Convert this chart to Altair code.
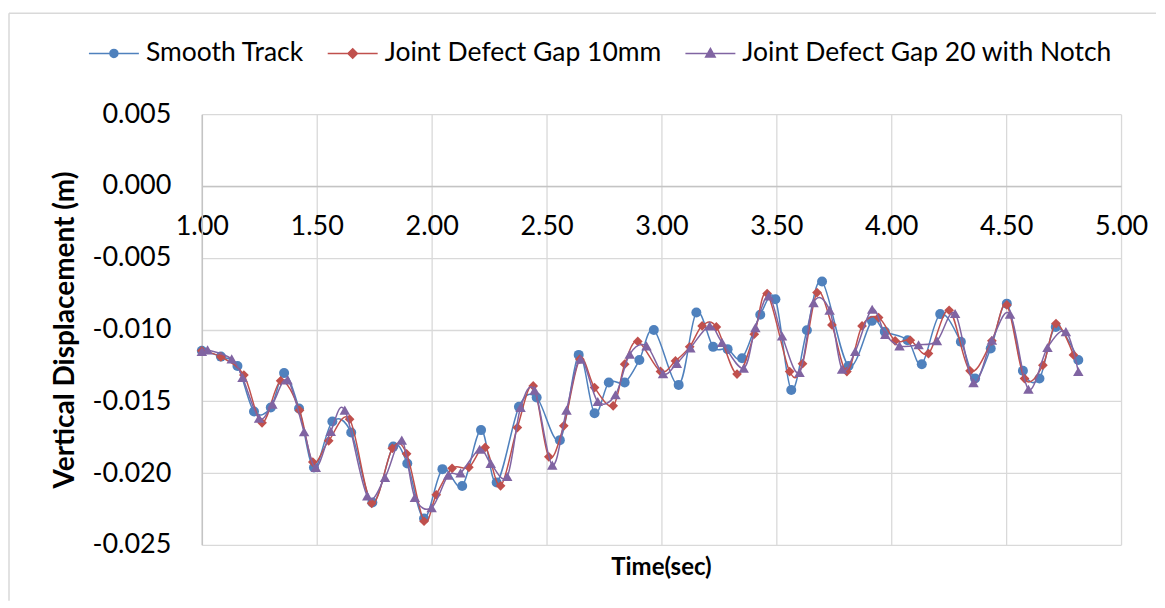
import altair as alt
import pandas as pd

# ---------------- data ----------------
series_names = ["Smooth Track", "Joint Defect Gap 10mm", "Joint Defect Gap 20 with Notch"]
series_colors = ["#4F81BD", "#C0504D", "#8064A2"]
series_shapes = ["circle", "diamond", "triangle-up"]
marker_sizes = [100, 95, 110]

smooth_time = [1.000, 1.083, 1.155, 1.227, 1.300, 1.358, 1.423, 1.488, 1.568, 1.650,
               1.742, 1.833, 1.894, 1.967, 2.047, 2.133, 2.215, 2.283, 2.380, 2.457,
               2.558, 2.640, 2.709, 2.771, 2.840, 2.904, 2.967, 3.075, 3.152, 3.225,
               3.288, 3.351, 3.430, 3.496, 3.565, 3.633, 3.699, 3.814, 3.916, 3.972,
               4.071, 4.133, 4.213, 4.303, 4.365, 4.433, 4.503, 4.573, 4.645, 4.716,
               4.814]
smooth_disp = [-0.01149, -0.01189, -0.01254, -0.01572, -0.01544, -0.01304, -0.01551, -0.01962, -0.01641, -0.01718,
               -0.02205, -0.01816, -0.01934, -0.02317, -0.01973, -0.02091, -0.01701, -0.02066, -0.01539, -0.01474,
               -0.01771, -0.01177, -0.01583, -0.01370, -0.01370, -0.01212, -0.01003, -0.01386, -0.00882, -0.01121,
               -0.01137, -0.01200, -0.00898, -0.00789, -0.01421, -0.01005, -0.00666, -0.01254, -0.00940, -0.01015,
               -0.01075, -0.01242, -0.00893, -0.01086, -0.01342, -0.01133, -0.00820, -0.01288, -0.01342, -0.00982,
               -0.01212]

gap10_time = [1.000, 1.083, 1.183, 1.262, 1.343, 1.425, 1.483, 1.552, 1.643, 1.739,
              1.829, 1.891, 1.967, 2.020, 2.089, 2.162, 2.233, 2.300, 2.373, 2.442,
              2.510, 2.575, 2.645, 2.709, 2.790, 2.840, 2.897, 2.996, 3.061, 3.123,
              3.177, 3.239, 3.329, 3.404, 3.460, 3.558, 3.614, 3.677, 3.742, 3.807,
              3.873, 3.945, 4.017, 4.083, 4.162, 4.252, 4.343, 4.438, 4.503, 4.580,
              4.660, 4.717, 4.793]
gap10_disp = [-0.01149, -0.01191, -0.01318, -0.01650, -0.01358, -0.01563, -0.01924, -0.01776, -0.01625, -0.02211,
              -0.01828, -0.01866, -0.02336, -0.02152, -0.01967, -0.01960, -0.01822, -0.02089, -0.01683, -0.01393,
              -0.01887, -0.01671, -0.01207, -0.01405, -0.01532, -0.01242, -0.01083, -0.01292, -0.01219, -0.01121,
              -0.00975, -0.00982, -0.01311, -0.01033, -0.00750, -0.01293, -0.01238, -0.00743, -0.00968, -0.01293,
              -0.00975, -0.00917, -0.01079, -0.01075, -0.01168, -0.00866, -0.01288, -0.01079, -0.00829, -0.01342,
              -0.01249, -0.00959, -0.01177]

notch_time = [1.000, 1.025, 1.130, 1.177, 1.249, 1.307, 1.373, 1.445, 1.496, 1.561,
              1.622, 1.720, 1.797, 1.870, 1.927, 2.000, 2.072, 2.126, 2.209, 2.257,
              2.329, 2.387, 2.448, 2.525, 2.587, 2.648, 2.723, 2.800, 2.862, 2.935,
              3.007, 3.067, 3.126, 3.210, 3.264, 3.358, 3.409, 3.467, 3.525, 3.601,
              3.662, 3.732, 3.786, 3.843, 3.917, 3.974, 4.036, 4.119, 4.199, 4.278,
              4.358, 4.438, 4.517, 4.597, 4.680, 4.760, 4.814]
notch_disp = [-0.01154, -0.01142, -0.01205, -0.01335, -0.01618, -0.01520, -0.01351, -0.01713, -0.01962, -0.01710,
              -0.01562, -0.02159, -0.02031, -0.01771, -0.02171, -0.02242, -0.02016, -0.01999, -0.01834, -0.01933,
              -0.02024, -0.01544, -0.01423, -0.01945, -0.01562, -0.01207, -0.01502, -0.01455, -0.01172, -0.01114,
              -0.01309, -0.01236, -0.01128, -0.00975, -0.01091, -0.01270, -0.00987, -0.00766, -0.01045, -0.01300,
              -0.00813, -0.00866, -0.01277, -0.01154, -0.00859, -0.01034, -0.01114, -0.01107, -0.01079, -0.00889,
              -0.01370, -0.01075, -0.00893, -0.01416, -0.01126, -0.01015, -0.01293]

x_ticks = [1.0, 1.5, 2.0, 2.5, 3.0, 3.5, 4.0, 4.5, 5.0]
y_ticks = [0.005, 0.0, -0.005, -0.010, -0.015, -0.020, -0.025]
x_title = "Time(sec)"
y_title = "Vertical Displacement (m)"

# legend symbols: a short line with the marker in its middle (unit coordinates)
legend_symbols = [
    "M-1,0H1M0.16,0A0.16,0.16,0,1,1,-0.16,0A0.16,0.16,0,1,1,0.16,0Z",
    "M-1,0H1M0,-0.19L0.19,0L0,0.19L-0.19,0Z",
    "M-1,0H1M0,-0.2L0.19,0.14L-0.19,0.14Z",
]

# ---------------- build ----------------
times = [smooth_time, gap10_time, notch_time]
disps = [smooth_disp, gap10_disp, notch_disp]
df = pd.concat(
    [pd.DataFrame({"series": n, "time": t, "disp": d}) for n, t, d in zip(series_names, times, disps)],
    ignore_index=True,
)

FONT = "Lato"
GRID = "#d9d9d9"
W, H = 920, 431
y_min, y_max = -0.025, 0.005

x_scale = alt.Scale(domain=[1.0, 5.0], nice=False, zero=False)
y_scale = alt.Scale(domain=[y_min, y_max], nice=False, zero=False)

# the horizontal axis crosses the vertical one at y = 0
zero_from_bottom = H * (0.0 - y_min) / (y_max - y_min)

x_axis = alt.Axis(
    values=x_ticks, format=".2f", title=None,
    offset=-zero_from_bottom,
    labelFont=FONT, labelFontSize=27, labelColor="#000000", labelPadding=28,
    labelFlush=False, labelOverlap=False, labelBound=False,
    ticks=False, tickSize=0,
    domain=True, domainColor="#c4c4c4", domainWidth=1.5,
    grid=True, gridColor=GRID, gridWidth=1.3,
)
y_axis = alt.Axis(
    values=y_ticks,
    labelExpr="replace(format(datum.value, '.3f'), '\u2212', '-')",
    title=y_title, titleFont=FONT, titleFontSize=28, titleFontWeight="bold",
    titleColor="#000000", titlePadding=12,
    labelFont=FONT, labelFontSize=27, labelColor="#000000", labelPadding=31,
    labelOverlap=False, labelBound=False,
    ticks=False, tickSize=0,
    domain=True, domainColor="#c4c4c4", domainWidth=1.5,
    grid=True, gridColor=GRID, gridWidth=1.3,
)

x_enc = alt.X("time:Q", scale=x_scale, axis=x_axis)
y_enc = alt.Y("disp:Q", scale=y_scale, axis=y_axis)

base = alt.Chart(df)
layers = []
for name, col, shape, msize in zip(series_names, series_colors, series_shapes, marker_sizes):
    sub = base.transform_filter(alt.datum.series == name)
    layers.append(
        sub.mark_line(interpolate="cardinal", strokeWidth=1.5, color=col).encode(x=x_enc, y=y_enc)
    )
    layers.append(
        sub.mark_point(shape=shape, filled=True, size=msize, opacity=1, color=col).encode(x=x_enc, y=y_enc)
    )

# legend (drawn from scales only; the layer itself has no rows left to draw)
legend_df = pd.DataFrame({"series": series_names})
leg = alt.Legend(
    orient="none", legendX=-114, legendY=-87, direction="horizontal", columns=3,
    title=None, labelFont=FONT, labelFontSize=26.5, labelColor="#000000",
    labelOffset=6, columnPadding=20, symbolSize=2500, symbolStrokeWidth=1.5,
    padding=0, labelLimit=1000,
)
legend_layer = alt.Chart(legend_df).transform_filter("false").mark_point(
    filled=True, size=2500, opacity=1, strokeWidth=1.5
).encode(
    x=alt.X(datum=3.0, type="quantitative", scale=x_scale, axis=x_axis),
    y=alt.Y(datum=-0.01, type="quantitative", scale=y_scale, axis=y_axis),
    shape=alt.Shape("series:N", scale=alt.Scale(domain=series_names, range=legend_symbols), legend=leg),
    fill=alt.Fill("series:N", scale=alt.Scale(domain=series_names, range=series_colors), legend=leg),
    stroke=alt.Stroke("series:N", scale=alt.Scale(domain=series_names, range=series_colors), legend=leg),
)

# x-axis title placed under the plot (axis itself sits on the zero line)
title_df = pd.DataFrame({"label": [x_title]})
x_title_layer = alt.Chart(title_df).mark_text(
    font=FONT, fontSize=24, fontWeight="bold", color="#000000",
    dy=23, baseline="middle", align="center",
).encode(
    x=alt.X(datum=3.0, type="quantitative", scale=x_scale, axis=x_axis),
    y=alt.Y(datum=y_min, type="quantitative", scale=y_scale, axis=y_axis),
    text="label:N",
)

# chart-area border (left and top edges)
border_df = pd.DataFrame({"k": [0]})
left_edge = alt.Chart(border_df).mark_rule(color=GRID, strokeWidth=1.5).encode(
    x=alt.value(-193), y=alt.value(-101), y2=alt.value(487)
)
top_edge = alt.Chart(border_df).mark_rule(color=GRID, strokeWidth=1.5).encode(
    x=alt.value(-193), x2=alt.value(955), y=alt.value(-101)
)

chart = alt.layer(
    left_edge, top_edge, *layers, legend_layer, x_title_layer
).properties(
    width=W, height=H,
    padding={"left": 0, "top": 4, "right": 0, "bottom": 0},
    background="white",
).configure_view(stroke=None)

chart.save("out.html", embed_options={"renderer": "svg", "actions": False})
